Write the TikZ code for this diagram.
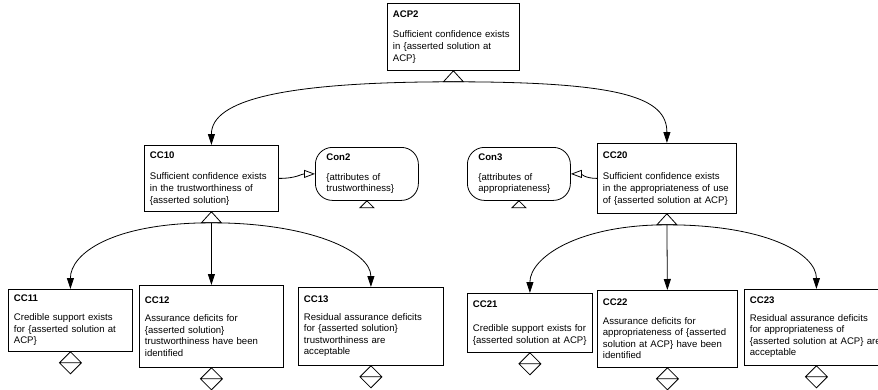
\documentclass[tikz,border=0pt]{standalone}
\usepackage{fontspec}
\setmainfont{Liberation Sans}
\usetikzlibrary{arrows.meta}

\begin{document}
\begin{tikzpicture}[x=1pt,y=-1pt,line width=0.8pt,
  claim/.style={draw,rectangle,anchor=north west,align=left,inner xsep=5.5pt,inner ysep=2pt,font=\fontsize{9.6}{11.6}\selectfont},
  context/.style={claim,rounded corners=17pt,inner xsep=11pt},
  supp/.style={-{Triangle[length=11pt,width=7pt]}},
  ctxarrow/.style={-{Triangle[open,length=11pt,width=8pt]}}]
  \useasboundingbox (0,0) rectangle (878,389);

  % top claim
  \node[claim,text width=121pt,minimum height=67pt] (acp2) at (387,3)
    {\textbf{ACP2}\\[9pt]Sufficient confidence exists\\in \{asserted solution at\\ACP\}};

  % second level
  \node[claim,text width=123pt,minimum height=66pt] (cc10) at (144,145)
    {\textbf{CC10}\\[10pt]Sufficient confidence exists\\in the trustworthiness of\\\{asserted solution\}};
  \node[context,text width=81pt,minimum height=53pt] (con2) at (315,147)
    {\textbf{Con2}\\[8pt]\{attributes of\\trustworthiness\}};
  \node[context,text width=81pt,minimum height=53pt] (con3) at (467,147)
    {\textbf{Con3}\\[8pt]\{attributes of\\appropriateness\}};
  \node[claim,text width=128pt,minimum height=70pt] (cc20) at (597,143)
    {\textbf{CC20}\\[10pt]Sufficient confidence exists\\in the appropriateness of use\\of \{asserted solution at ACP\}};

  % third level
  \node[claim,text width=113pt,minimum height=62pt] (cc11) at (8,289)
    {\textbf{CC11}\\[7pt]Credible support exists\\for \{asserted solution at\\ACP\}};
  \node[claim,text width=133pt,minimum height=82pt] (cc12) at (139,285)
    {\textbf{CC12}\\[7pt]Assurance deficits for\\\{asserted solution\}\\trustworthiness have been\\identified};
  \node[claim,text width=134pt,minimum height=78pt] (cc13) at (298,287)
    {\textbf{CC13}\\[6pt]Residual assurance deficits\\for \{asserted solution\}\\trustworthiness are\\acceptable};
  \node[claim,text width=114pt,minimum height=59pt] (cc21) at (467,293)
    {\textbf{CC21}\\[13pt]Credible support exists for\\\{asserted solution at ACP\}};
  \node[claim,text width=129pt,minimum height=77pt] (cc22) at (597,290)
    {\textbf{CC22}\\[7pt]Assurance deficits for\\appropriateness of \{asserted\\solution at ACP\} have been\\identified};
  \node[claim,text width=133pt,minimum height=76pt] (cc23) at (744,289)
    {\textbf{CC23}\\[6pt]Residual assurance deficits\\for appropriateness of\\\{asserted solution at ACP\} are\\acceptable};

  % support hats and markers
  \foreach \n in {acp2,cc10,cc20} {
    \draw (\n.south) -- ++(-10,11) -- ++(20,0) -- cycle;
    \coordinate (\n-hat) at ([yshift=-11pt]\n.south);
  }
  \foreach \n in {con2,con3}
    \draw (\n.south) -- ++(-7,7) -- ++(14,0) -- cycle;
  \foreach \n in {cc11,cc12,cc13,cc21,cc22,cc23}
    \draw (\n.south) -- ++(11,11) -- ++(-11,11) -- ++(-11,-11) -- cycle
      ++(-11,11) -- ++(22,0);

  % links
  \draw[supp] (acp2-hat) .. controls +(-170,0) and +(0,-45) .. (cc10.north);
  \draw[supp] (acp2-hat) .. controls +(170,0) and +(0,-45) .. (cc20.north);
  \draw[ctxarrow] (cc10.east) .. controls +(18,0) and +(-14,0) .. (con2.west);
  \draw[ctxarrow] (cc20.west) .. controls +(-12,0) and +(10,0) .. (con3.east);

  \draw[supp] (cc10-hat) .. controls +(-100,0) and +(0,-35) .. (cc11.north);
  \draw[supp] (cc10-hat) -- (cc12.north);
  \draw[supp] (cc10-hat) .. controls +(100,0) and +(0,-35) .. (cc13.north);
  \draw[supp] (cc20-hat) .. controls +(-90,0) and +(0,-35) .. (cc21.north);
  \draw[supp] (cc20-hat) -- (cc22.north);
  \draw[supp] (cc20-hat) .. controls +(100,0) and +(0,-35) .. (cc23.north);
\end{tikzpicture}
\end{document}
